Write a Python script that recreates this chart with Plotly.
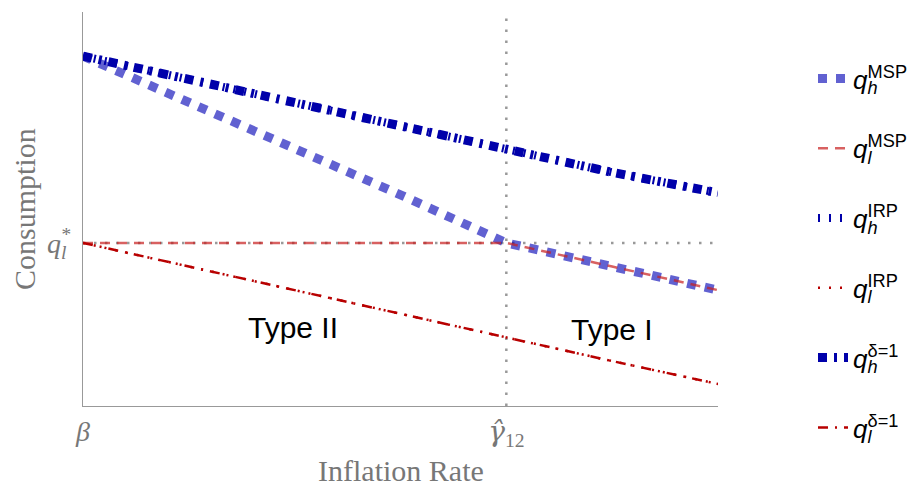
import plotly.graph_objects as go

# ---- data ----
x_vals = [0.0, 0.25, 0.5, 0.75, 1.0, 1.25, 1.5]
gamma_hat = 1.0
q_star = 4.14
qh_msp = [8.88, 7.72, 6.55, 5.36, 4.14, 3.54, 2.94]
ql_msp = [4.14, 4.14, 4.14, 4.14, 4.14, 3.54, 2.94]
qh_irp = [8.88, 8.29, 7.69, 7.08, 6.47, 5.93, 5.41]
ql_irp = [4.14, 3.54, 2.94, 2.34, 1.73, 1.14, 0.56]
qh_d1 = [8.88, 8.29, 7.69, 7.08, 6.47, 5.93, 5.41]
ql_d1 = [4.14, 3.54, 2.94, 2.34, 1.73, 1.14, 0.56]

x_ticks = [0.0, gamma_hat]
x_ticklabels = ["<i>β</i>",
                "<span style=\"font-family:'DejaVu Serif'\"><i>γ̂</i></span><sub>12</sub>"]
y_ticks = [q_star]
y_ticklabels = ["<i>q<sub><span style=\"letter-spacing:-6px\">l</span></sub><sup>*</sup></i>"]

region_labels = ["Type II", "Type I"]
region_x = [0.496, 1.25]
region_y = [1.98, 1.95]

BLUE = "#0000aa"
BLUE_T = "rgba(0,0,180,0.62)"
RED = "#b80000"
RED_T = "rgba(200,30,30,0.7)"


def lab(sub, sup, sp):
    return (f"<i>q</i><sub><i><span style=\"letter-spacing:-{sp}px\">{sub}</span></i></sub>"
            f"<sup>{sup}</sup>")


series = [
    (qh_msp, lab("h", "MSP", 10), BLUE_T, 9, "9px,9px"),
    (ql_msp, lab("l", "MSP", 4), RED_T, 2.5, "10px,7px"),
    (qh_irp, lab("h", "IRP", 10), BLUE, 8, "2px,9px"),
    (ql_irp, lab("l", "IRP", 4), RED, 2.5, "2px,9px"),
    (qh_d1, lab("h", "δ=1", 10), BLUE, 9, "9px,7px,3px,7px"),
    (ql_d1, lab("l", "δ=1", 4), RED, 2.5, "10px,7px,2px,7px"),
]

fig = go.Figure()
for i, (ys, name, col, w, dash) in enumerate(series):
    fig.add_trace(go.Scatter(
        x=x_vals, y=ys, mode="lines", name=name, legendgroup=f"g{i}",
        line=dict(color=col, width=w, dash=dash),
    ))

GREY = "#999999"
fig.add_vline(x=gamma_hat, line=dict(color=GREY, width=2.5, dash="2.5px,8.5px"), layer="below")
fig.add_hline(y=q_star, line=dict(color=GREY, width=2.5, dash="2.5px,8.5px"), layer="below")

for t, xx, yy in zip(region_labels, region_x, region_y):
    fig.add_annotation(x=xx, y=yy, text=t, showarrow=False,
                       font=dict(family="Liberation Sans", size=30, color="black"))

# axis titles
fig.add_annotation(x=(401 - 83) / 635, y=(406 - 470) / 394, xref="paper", yref="paper",
                   xanchor="center", yanchor="middle",
                   text="Inflation Rate", showarrow=False,
                   font=dict(family="Liberation Serif", size=30, color="#777777"))
fig.add_annotation(x=(24 - 83) / 635, y=(406 - 209) / 394, xref="paper", yref="paper",
                   xanchor="center", yanchor="middle", textangle=-90,
                   text="Consumption", showarrow=False,
                   font=dict(family="Liberation Serif", size=30, color="#777777"))

fig.update_layout(
    width=915, height=493,
    margin=dict(l=83, r=197, t=12, b=87, autoexpand=False),
    plot_bgcolor="white", paper_bgcolor="white",
    showlegend=True,
    legend=dict(x=(813 - 83) / 635, y=(406 - 55) / 394, xanchor="left", yanchor="top",
                font=dict(family="Liberation Sans", size=26, color="black"),
                tracegroupgap=33, bgcolor="rgba(0,0,0,0)", maxheight=490),
)
fig.update_xaxes(range=[0, 1.5], showgrid=False, zeroline=False, showline=True,
                 linecolor=GREY, linewidth=1.2, tickvals=x_ticks, ticktext=x_ticklabels,
                 ticks="", ticklabelstandoff=0,
                 tickfont=dict(family="Liberation Serif", size=28, color="#777777"))
fig.update_yaxes(range=[0, 10], showgrid=False, zeroline=False, showline=True,
                 linecolor=GREY, linewidth=1.2, tickvals=y_ticks, ticktext=y_ticklabels,
                 ticks="", ticklabelstandoff=6,
                 tickfont=dict(family="Liberation Serif", size=28, color="#777777"))

fig.write_html("out.html")
